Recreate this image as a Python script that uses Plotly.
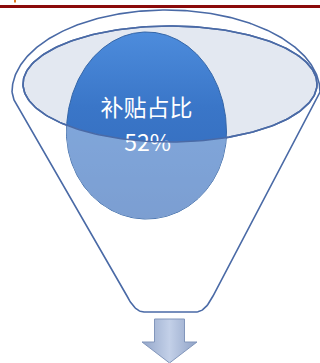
import numpy as np
import plotly.graph_objects as go

# ---- data ----
labels = ["补贴占比"]
shares = [52]          # percent

W, H = 320, 363

# ---- geometry (layout parameters) ----
OUT = dict(cx=166, cy=92, rx=154, ry=82)          # funnel rim (outer)
INN = dict(cx=170, cy=84, rx=147, ry=58)          # funnel opening (inner ellipse)
BALL = dict(cx=146.5, cy=132, rx=80, ry_up=100, ry_dn=87)
LINE_C = "#4a6aa6"


def qbez(p0, p1, p2, n=20):
    t = np.linspace(0, 1, n)
    x = (1 - t) ** 2 * p0[0] + 2 * (1 - t) * t * p1[0] + t ** 2 * p2[0]
    y = (1 - t) ** 2 * p0[1] + 2 * (1 - t) * t * p1[1] + t ** 2 * p2[1]
    return x, y


def ell(cx, cy, rx, ry, t0, t1, n=240):
    t = np.linspace(t0, t1, n)
    return cx + rx * np.cos(t), cy - ry * np.sin(t)


# funnel outline
ex, ey = ell(OUT["cx"], OUT["cy"], OUT["rx"], OUT["ry"], np.pi, 0)
bx1, by1 = qbez((213, 296), (205, 312), (196, 312))
bx2, by2 = qbez((144, 312), (135, 312), (127, 296))
fx = np.concatenate([ex, bx1, bx2, [14], [ex[0]]])
fy = np.concatenate([ey, by1, by2, [100], [ey[0]]])

# inner ellipse
ix, iy = ell(INN["cx"], INN["cy"], INN["rx"], INN["ry"], 0, 2 * np.pi)

# ball
t = np.linspace(0, 2 * np.pi, 400)
ry = np.where(np.sin(t) > 0, BALL["ry_up"], BALL["ry_dn"])
cxp = BALL["cx"] + BALL["rx"] * np.cos(t)
cyp = BALL["cy"] - ry * np.sin(t)

# region of ball below the inner ellipse (overlay)
xs = np.linspace(BALL["cx"] - BALL["rx"] + 1e-6, BALL["cx"] + BALL["rx"] - 1e-6, 300)
u = (xs - BALL["cx"]) / BALL["rx"]
yc_top = BALL["cy"] - BALL["ry_up"] * np.sqrt(1 - u ** 2)
yc_bot = BALL["cy"] + BALL["ry_dn"] * np.sqrt(1 - u ** 2)
v = np.clip((xs - INN["cx"]) / INN["rx"], -1, 1)
ye_bot = INN["cy"] + INN["ry"] * np.sqrt(1 - v ** 2)
ytop = np.maximum(yc_top, ye_bot)
ok = ytop <= yc_bot
ox = np.concatenate([xs[ok], xs[ok][::-1]])
oy = np.concatenate([ytop[ok], yc_bot[ok][::-1]])

# arrow
ac = 169.5
ax_ = [ac - 15, ac + 15, ac + 15, ac + 27.5, ac, ac - 27.5, ac - 15, ac - 15]
ay_ = [319, 319, 342, 342, 363, 342, 342, 319]

fig = go.Figure()
fig.add_trace(go.Scatter(x=fx, y=fy, mode="lines", fill="toself", fillcolor="#ffffff",
                         line=dict(color=LINE_C, width=1.6), hoverinfo="skip"))
fig.add_trace(go.Scatter(x=ix, y=iy, mode="lines", fill="toself", fillcolor="#e3e8f1",
                         line=dict(color=LINE_C, width=1.6), hoverinfo="skip"))
fig.add_trace(go.Scatter(x=cxp, y=cyp, mode="lines", fill="toself",
                         fillgradient=dict(type="vertical",
                                           colorscale=[[0, "#3268b8"], [0.6, "#3a76c8"], [1, "#4d8cdc"]],
                                           start=219, stop=32),
                         line=dict(color="#3566a8", width=1), hoverinfo="skip"))
fig.add_trace(go.Scatter(x=[BALL["cx"], BALL["cx"] + 1],
                         y=[110, 145],
                         mode="text",
                         text=[labels[0], f"{shares[0]}%"],
                         textfont=dict(family="Noto Sans CJK SC", size=23, color="#ffffff"),
                         hoverinfo="skip"))
fig.add_trace(go.Scatter(x=ox, y=oy, mode="lines", fill="toself",
                         fillcolor="rgba(255,255,255,0.36)",
                         line=dict(width=0), hoverinfo="skip"))
fig.add_trace(go.Scatter(x=ix, y=iy, mode="lines",
                         line=dict(color=LINE_C, width=1.6), hoverinfo="skip"))
fig.add_trace(go.Scatter(x=ax_, y=ay_, mode="lines", fill="toself",
                         fillgradient=dict(type="horizontal",
                                           colorscale=[[0, "#93a6c9"], [0.5, "#c3d0e8"], [1, "#8fa2c6"]],
                                           start=ac - 27.5, stop=ac + 27.5),
                         line=dict(color="#8296bb", width=1), hoverinfo="skip"))

fig.add_shape(type="line", x0=0, x1=W, y0=6.5, y1=6.5, line=dict(color="#8b0a0a", width=3))
fig.add_shape(type="line", x0=15, x1=15, y0=0, y1=2.5, line=dict(color="#e07a20", width=2))

fig.update_layout(width=W, height=H, margin=dict(l=0, r=0, t=0, b=0),
                  paper_bgcolor="#ffffff", plot_bgcolor="#ffffff", showlegend=False)
fig.update_xaxes(range=[0, W], visible=False, fixedrange=True)
fig.update_yaxes(range=[H, 0], visible=False, fixedrange=True)
fig.write_html("out.html", config=dict(displayModeBar=False))
